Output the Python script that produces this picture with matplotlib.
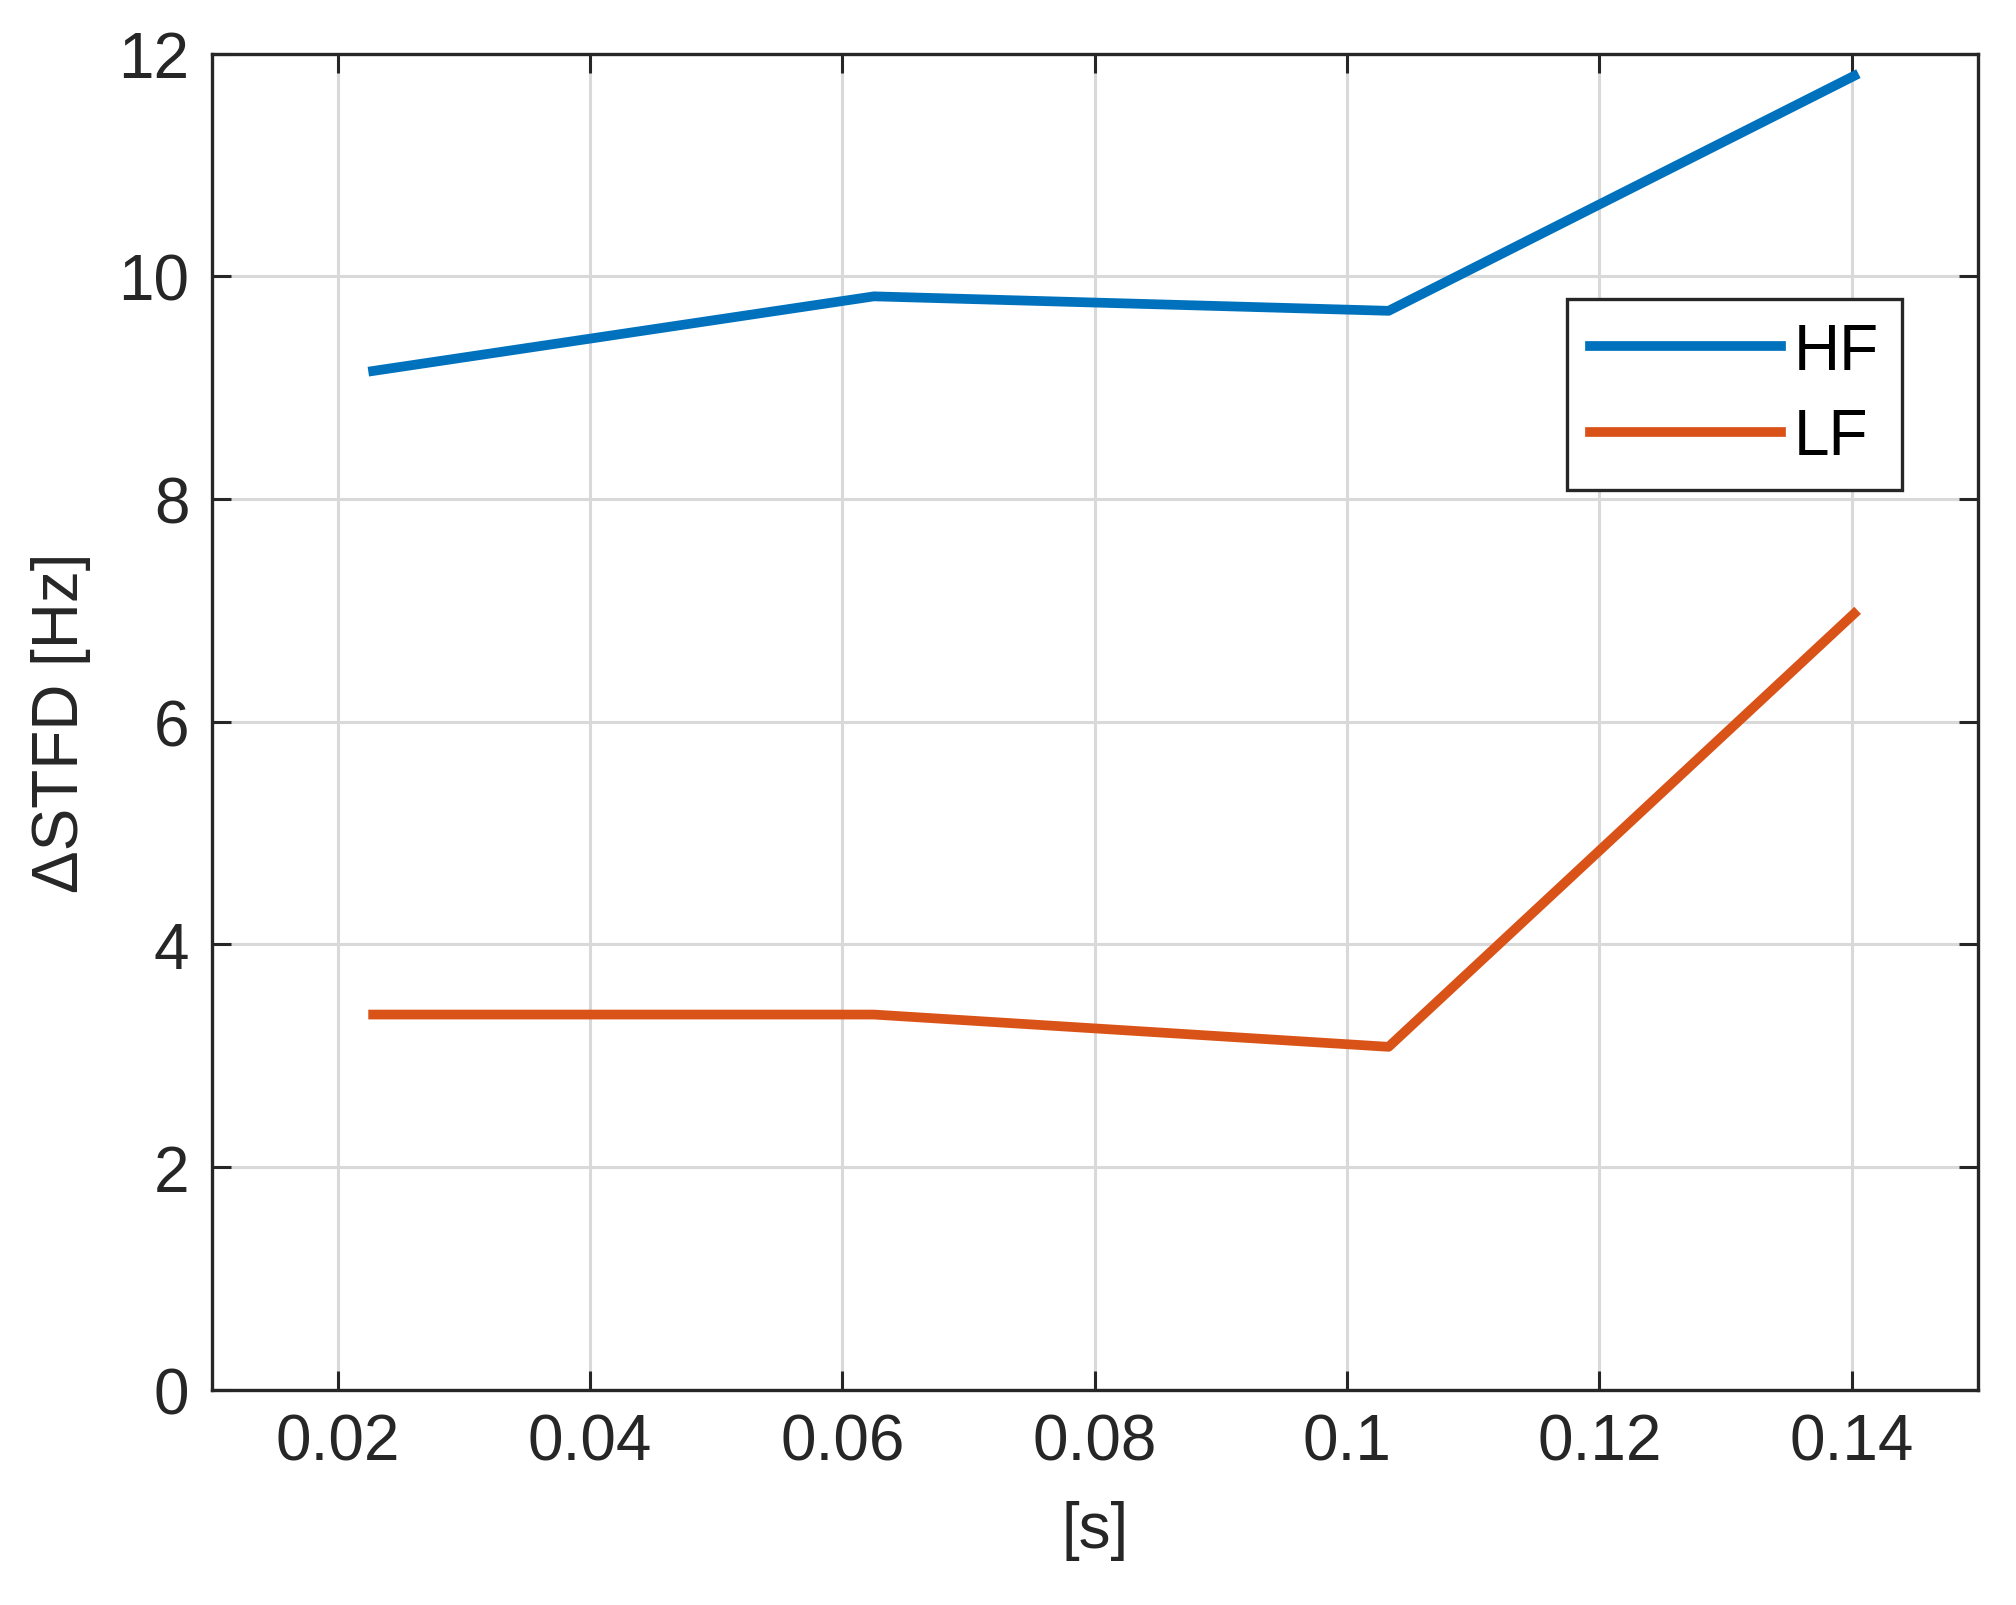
import matplotlib
matplotlib.use('Agg')
import matplotlib.pyplot as plt

plt.rcParams['font.family'] = ['Liberation Sans', 'DejaVu Sans']

# data
t = [0.0228, 0.0625, 0.1033, 0.1402]
hf = [9.15, 9.82, 9.69, 11.80]
lf = [3.37, 3.37, 3.08, 6.97]
x_ticks = [0.02, 0.04, 0.06, 0.08, 0.1, 0.12, 0.14]
x_labels = ['0.02', '0.04', '0.06', '0.08', '0.1', '0.12', '0.14']
y_ticks = [0, 2, 4, 6, 8, 10, 12]

fig = plt.figure(figsize=(20.16, 16.06), dpi=100)
ax = fig.add_axes([0.105, 0.134, 0.876, 0.832])

ax.plot(t, hf, color='#0072BD', lw=7, label='HF')
ax.plot(t, lf, color='#D95319', lw=7, label='LF')

ax.set_xlim(0.01, 0.15)
ax.set_ylim(0, 12)
ax.set_xticks(x_ticks)
ax.set_xticklabels(x_labels)
ax.set_yticks(y_ticks)
ax.grid(True, color='#d9d9d9', lw=2.2)
ax.set_axisbelow(True)

ax.tick_params(direction='in', length=14, width=2.2, top=True, right=True,
               labelsize=46, colors='#262626', pad=16)
for s in ax.spines.values():
    s.set_linewidth(2.4)
    s.set_color('#262626')

ax.set_xlabel('[s]', fontsize=46, color='#262626', labelpad=20)
ax.set_ylabel('ΔSTFD [Hz]', fontsize=46, color='#262626', labelpad=20)

leg = ax.legend(loc='upper right', bbox_to_anchor=(0.975, 0.84), fontsize=46,
                fancybox=False, framealpha=1, edgecolor='#262626',
                handlelength=3.0, borderpad=0.35, labelspacing=0.4, handletextpad=0.2)
leg.get_frame().set_linewidth(2.4)

fig.savefig('out.png', dpi=100)
